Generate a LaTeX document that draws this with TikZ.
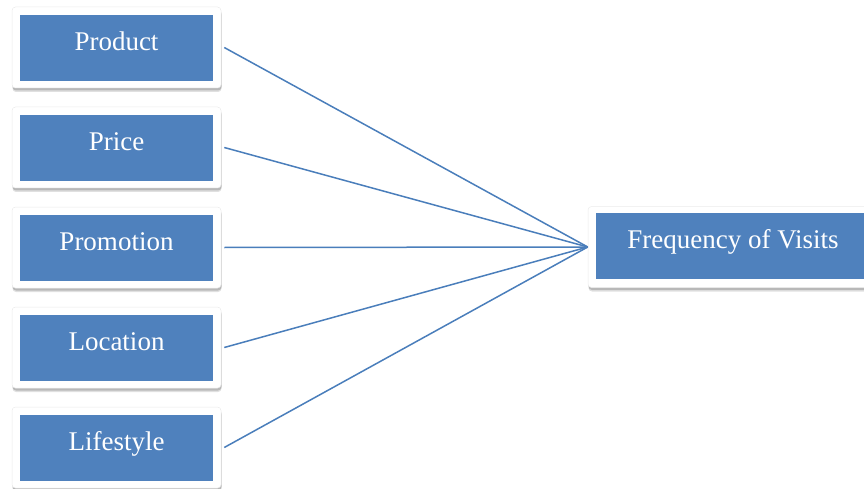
\documentclass[tikz,border=0pt]{standalone}
\usepackage{fontspec}
\setmainfont{Liberation Serif}
\usetikzlibrary{shadows}
\definecolor{boxblue}{HTML}{4F81BD}
\definecolor{linkblue}{HTML}{4A7EBB}
\begin{document}
\begin{tikzpicture}[x=1pt,y=-1pt,
  frame/.style={draw=black!8, fill=white, rounded corners=3.5pt, line width=0.5pt,
    minimum width=209pt, minimum height=81pt, inner sep=0pt,
    drop shadow={shadow xshift=0.5pt, shadow yshift=-4pt, opacity=0.12, fill=black},
    drop shadow={shadow xshift=0.5pt, shadow yshift=-2.5pt, opacity=0.18, fill=black}},
  core/.style={fill=boxblue, minimum width=193pt, minimum height=66pt, inner sep=0pt},
  boxtext/.style={text=white, font=\fontsize{27}{30}\selectfont, anchor=base, inner sep=0pt},
  link/.style={draw=linkblue, line width=1.5pt}]
  \useasboundingbox (0,0) rectangle (864,489);
  \clip (0,0) rectangle (864,489);

  % factor boxes on the left
  \foreach \name/\txt [count=\i from 0] in
      {product/Product, price/Price, promotion/Promotion, location/Location, lifestyle/Lifestyle}{
    \node[frame] (frame-\name) at (116.5, 47.5+100*\i) {};
    \node[core] (core-\name) at (116.5, 48+100*\i) {};
    \node[boxtext] (text-\name) at (116.5, 50.5+100*\i) {\txt};
  }

  % outcome box on the right
  \node[frame, minimum width=290pt] (frame-freq) at (733, 247) {};
  \node[core, minimum width=274pt] (core-freq) at (733, 246) {};
  \node[boxtext] (text-freq) at (733, 248) {Frequency of Visits};

  % connectors
  \foreach \name in {product, price, promotion, location, lifestyle}{
    \draw[link] ([xshift=3pt]frame-\name.east) -- (frame-freq.west);
  }
\end{tikzpicture}
\end{document}
